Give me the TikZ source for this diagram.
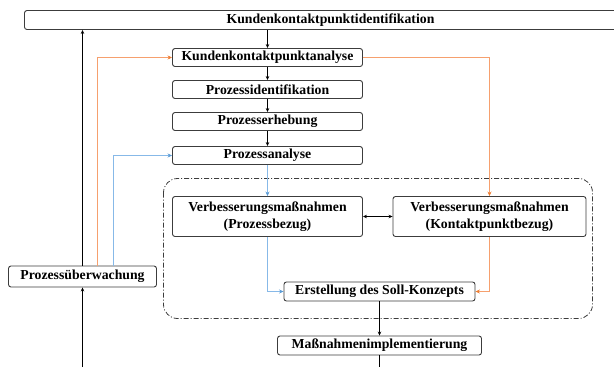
\documentclass[tikz,border=0pt]{standalone}
\usepackage{fontspec}
\setmainfont{Liberation Serif}
\usetikzlibrary{arrows.meta}
\begin{document}
\begin{tikzpicture}[x=1bp,y=-1bp]
    % Define colors
    \definecolor{flowgray}{RGB}{60, 60, 60}
    \definecolor{flowrange}{RGB}{246, 160, 110}
    \definecolor{flowblue}{RGB}{135, 185, 232}
    \definecolor{tiprange}{RGB}{237, 125, 49}
    \definecolor{tipblue}{RGB}{91, 155, 213}
    \tikzset{
        box/.style={draw=flowgray, line width=0.9bp, rounded corners=2.5bp, inner sep=0pt,
            align=center, font=\bfseries\fontsize{13.8}{16.5}\selectfont},
        flow/.style={-{Stealth[length=4bp,width=3.5bp]}, line width=0.7bp},
        orangeflow/.style={-{Stealth[length=4.5bp,width=4bp,color=tiprange]}, draw=flowrange, line width=1.8bp},
        blueflow/.style={-{Stealth[length=4.5bp,width=4bp,color=tipblue]}, draw=flowblue, line width=1.8bp}
    }

    % Canvas
    \useasboundingbox (0,0) rectangle (614,367);

    % Group of the measures
    \draw[flowgray, line width=0.8bp, dash pattern=on 5bp off 2bp on 1bp off 2bp, rounded corners=14bp]
        (163.5,178.5) rectangle (592.5,318.5);

    % Main boxes
    \begin{scope}
        \clip (0,0) rectangle (614,367);
        \node[box, minimum width=612bp, minimum height=19bp] (kkpid) at (330.5,20) {Kundenkontaktpunktidentifikation};
    \end{scope}
    \node[box, minimum width=190bp, minimum height=18bp] (kkpana) at (267.5,57.5) {Kundenkontaktpunktanalyse};
    \node[box, minimum width=190bp, minimum height=18bp] (prozid) at (267.5,89.5) {Prozessidentifikation};
    \node[box, minimum width=190bp, minimum height=18bp] (prozerh) at (267.5,121.5) {Prozesserhebung};
    \node[box, minimum width=190bp, minimum height=18bp] (prozana) at (267.5,155.5) {Prozessanalyse};
    \node[box, minimum width=190bp, minimum height=40bp] (vmprozess) at (267.5,216.5) {Verbesserungsmaßnahmen\\(Prozessbezug)};
    \node[box, minimum width=193bp, minimum height=40bp] (vmkontakt) at (489.5,216.5) {Verbesserungsmaßnahmen\\(Kontaktpunktbezug)};
    \node[box, minimum width=191bp, minimum height=19bp] (soll) at (379.5,291.5) {Erstellung des Soll-Konzepts};
    \node[box, minimum width=204bp, minimum height=19bp] (massimpl) at (379.5,345.5) {Maßnahmenimplementierung};
    \node[box, minimum width=148bp, minimum height=21bp] (ueberw) at (82.5,276.5) {Prozessüberwachung};

    % Loose ends at the bottom edge
    \coordinate (ueberwin) at (82.5,367);
    \coordinate (massout) at (379.5,367);

    % Main chain
    \draw[flow] (kkpid.south -| kkpana.north) -- (kkpana.north);
    \draw[flow] (kkpana) -- (prozid);
    \draw[flow] (prozid) -- (prozerh);
    \draw[flow] (prozerh) -- (prozana);
    \draw[blueflow] (prozana) -- (vmprozess);
    \draw[{Stealth[length=4bp,width=3.5bp]}-{Stealth[length=4bp,width=3.5bp]}, line width=0.7bp] (vmprozess) -- (vmkontakt);
    \draw[blueflow] (vmprozess.south) |- (soll.west);
    \draw[orangeflow] (vmkontakt.south) |- (soll.east);
    \draw[orangeflow] (kkpana.east) -| (vmkontakt.north);
    \draw[flow] (soll) -- (massimpl);
    \draw[line width=0.7bp] (massimpl.south) -- (massout);

    % Monitoring loops
    \draw[flow] (ueberwin) -- (ueberw.south);
    \draw[flow] (ueberw.north) -- (ueberw.north |- kkpid.south);
    \draw[orangeflow] ([xshift=15bp]ueberw.north) |- (kkpana.west);
    \draw[blueflow] ([xshift=31bp]ueberw.north) |- (prozana.west);
\end{tikzpicture}
\end{document}
